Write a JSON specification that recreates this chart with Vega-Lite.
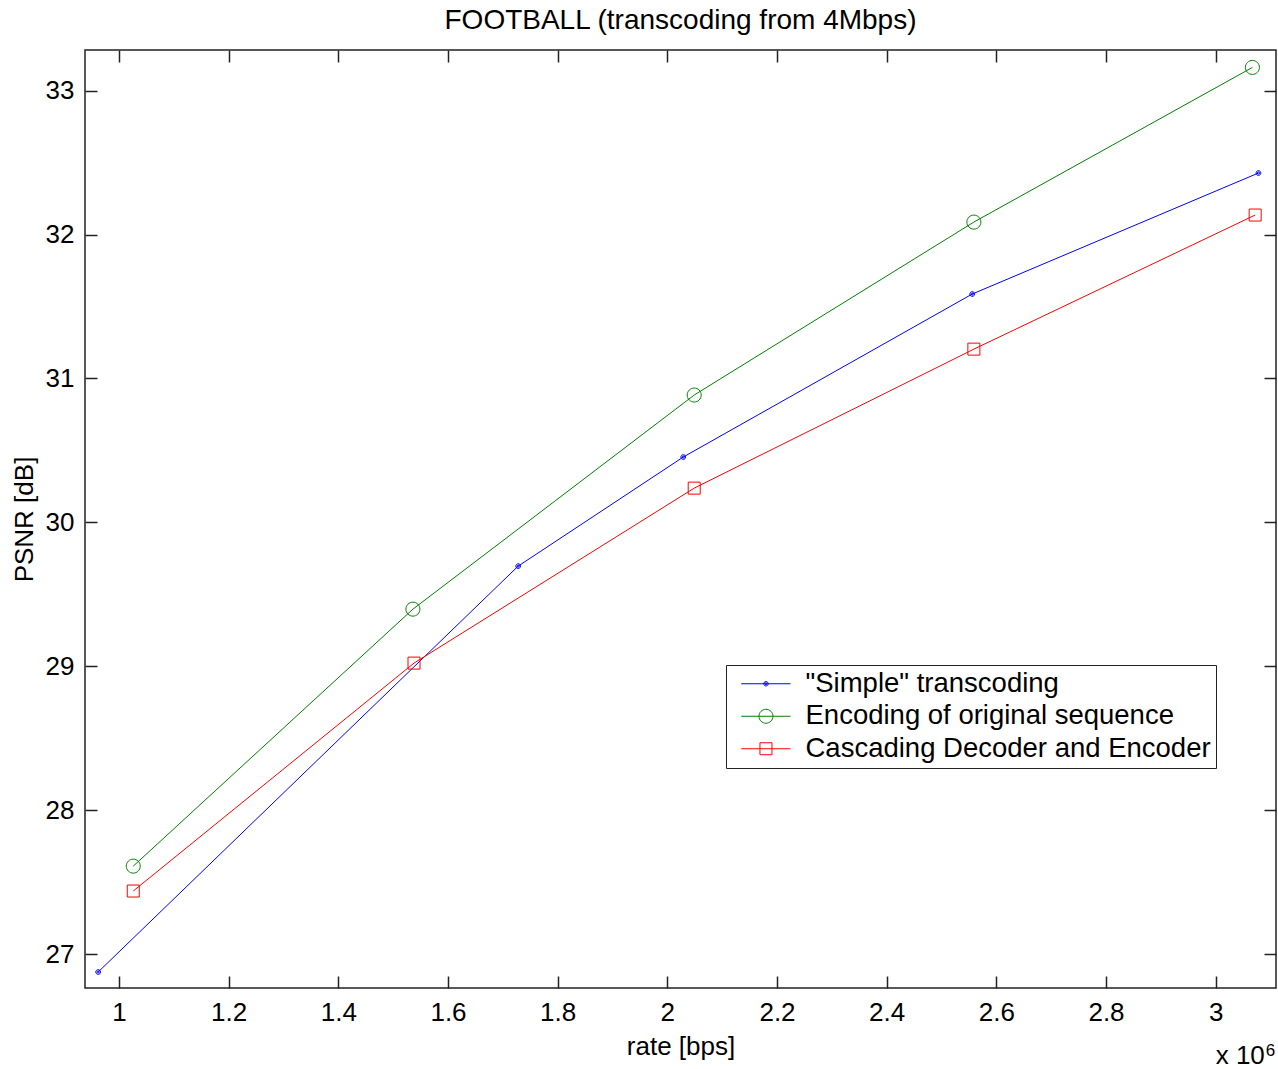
{
  "$schema": "https://vega.github.io/schema/vega-lite/v6.json",
  "width": 1191,
  "height": 938,
  "autosize": {"type": "none"},
  "padding": {"left": 85, "top": 50, "right": 2, "bottom": 81},
  "background": "white",
  "title": {
    "text": "FOOTBALL (transcoding from 4Mbps)",
    "font": "Liberation Sans",
    "fontSize": 28,
    "fontWeight": "normal",
    "color": "black",
    "anchor": "middle",
    "offset": 14
  },
  "config": {
    "view": {"stroke": "#222", "strokeWidth": 1.5},
    "axis": {
      "domain": false,
      "grid": false,
      "tickColor": "#222",
      "tickWidth": 1.5,
      "tickSize": -12,
      "labelFont": "Liberation Sans",
      "labelFontSize": 26,
      "labelColor": "black",
      "titleFont": "Liberation Sans",
      "titleFontSize": 26,
      "titleFontWeight": "normal",
      "titleColor": "black"
    },
    "legend": {
      "orient": "none",
      "legendX": 641,
      "legendY": 615,
      "strokeColor": "#222",
      "fillColor": "white",
      "padding": 5,
      "rowPadding": 3.5,
      "labelFont": "Liberation Sans",
      "labelFontSize": 27.5,
      "labelColor": "black",
      "labelLimit": 1000,
      "labelOffset": 47,
      "symbolSize": 196,
      "symbolStrokeWidth": 1,
      "symbolOpacity": 1,
      "title": null
    }
  },
  "datasets": {
    "series": [
      {"series": "\"Simple\" transcoding", "rate": 0.962, "psnr": 26.875},
      {"series": "\"Simple\" transcoding", "rate": 1.728, "psnr": 29.696},
      {"series": "\"Simple\" transcoding", "rate": 2.029, "psnr": 30.454},
      {"series": "\"Simple\" transcoding", "rate": 2.556, "psnr": 31.587},
      {"series": "\"Simple\" transcoding", "rate": 3.078, "psnr": 32.428},
      {"series": "Encoding of original sequence", "rate": 1.026, "psnr": 27.611},
      {"series": "Encoding of original sequence", "rate": 1.536, "psnr": 29.397},
      {"series": "Encoding of original sequence", "rate": 2.049, "psnr": 30.885},
      {"series": "Encoding of original sequence", "rate": 2.559, "psnr": 32.087},
      {"series": "Encoding of original sequence", "rate": 3.067, "psnr": 33.162},
      {"series": "Cascading Decoder and Encoder", "rate": 1.026, "psnr": 27.438},
      {"series": "Cascading Decoder and Encoder", "rate": 1.538, "psnr": 29.022},
      {"series": "Cascading Decoder and Encoder", "rate": 2.049, "psnr": 30.238},
      {"series": "Cascading Decoder and Encoder", "rate": 2.559, "psnr": 31.204},
      {"series": "Cascading Decoder and Encoder", "rate": 3.072, "psnr": 32.136}
    ]
  },
  "resolve": {"axis": {"x": "independent", "y": "independent"}},
  "layer": [
    {
      "data": {"name": "series"},
      "mark": {"type": "line", "strokeWidth": 1},
      "encoding": {
        "x": {
          "field": "rate", "type": "quantitative",
          "scale": {"domain": [0.938, 3.11], "nice": false, "zero": false},
          "axis": {"orient": "bottom", "values": [1, 1.2, 1.4, 1.6, 1.8, 2, 2.2, 2.4, 2.6, 2.8, 3], "format": "~g", "labelPadding": 23, "title": "rate [bps]", "titlePadding": 8}
        },
        "y": {
          "field": "psnr", "type": "quantitative",
          "scale": {"domain": [26.764, 33.283], "nice": false, "zero": false},
          "axis": {"orient": "left", "values": [27, 28, 29, 30, 31, 32, 33], "labelPadding": 23, "title": "PSNR [dB]", "titlePadding": 8}
        },
        "color": {
          "field": "series", "type": "nominal",
          "scale": {
            "domain": ["\"Simple\" transcoding", "Encoding of original sequence", "Cascading Decoder and Encoder"],
            "range": ["#0000ff", "#008000", "#ff0000"]
          },
          "legend": {"labelExpr": "datum.label + '\u00a0\u00a0'"}
        }
      }
    },
    {
      "data": {"name": "series"},
      "mark": {"type": "point", "filled": false, "strokeWidth": 1, "size": 196, "opacity": 0},
      "encoding": {
        "x": {
          "field": "rate", "type": "quantitative",
          "axis": {"orient": "top", "values": [1, 1.2, 1.4, 1.6, 1.8, 2, 2.2, 2.4, 2.6, 2.8, 3], "labels": false, "title": null}
        },
        "y": {
          "field": "psnr", "type": "quantitative",
          "axis": {"orient": "right", "values": [27, 28, 29, 30, 31, 32, 33], "labels": false, "title": null}
        },
        "color": {"field": "series", "type": "nominal", "legend": {"labelExpr": "datum.label + '\u00a0\u00a0'"}},
        "shape": {
          "field": "series", "type": "nominal",
          "scale": {
            "domain": ["\"Simple\" transcoding", "Encoding of original sequence", "Cascading Decoder and Encoder"],
            "range": [
              "M-0.5,0H6.54M2.71,0A0.32,0.32 0 1,0 3.35,0A0.32,0.32 0 1,0 2.71,0ZM2.88,0A0.15,0.15 0 1,0 3.18,0A0.15,0.15 0 1,0 2.88,0Z",
              "M-0.5,0H6.54M2.03,0A1,1 0 1,0 4.03,0A1,1 0 1,0 2.03,0Z",
              "M-0.5,0H6.54M2.173,-0.857H3.887V0.857H2.173Z"
            ]
          },
          "legend": {"labelExpr": "datum.label + '\u00a0\u00a0'"}
        }
      }
    },
    {
      "data": {"name": "series"},
      "transform": [{"filter": "datum.series === 'Encoding of original sequence'"}],
      "mark": {"type": "point", "filled": false, "strokeWidth": 1, "size": 196, "opacity": 1, "color": "#008000", "shape": "M-1,0A1,1 0 1,0 1,0A1,1 0 1,0 -1,0Z"},
      "encoding": {
        "x": {"field": "rate", "type": "quantitative", "axis": null},
        "y": {"field": "psnr", "type": "quantitative", "axis": null}
      }
    },
    {
      "data": {"name": "series"},
      "transform": [{"filter": "datum.series === 'Cascading Decoder and Encoder'"}],
      "mark": {"type": "point", "filled": false, "strokeWidth": 1, "size": 196, "opacity": 1, "color": "#ff0000", "shape": "M-0.857,-0.857H0.857V0.857H-0.857Z"},
      "encoding": {
        "x": {"field": "rate", "type": "quantitative", "axis": null},
        "y": {"field": "psnr", "type": "quantitative", "axis": null}
      }
    },
    {
      "data": {"name": "series"},
      "transform": [{"filter": "datum.series !== 'Encoding of original sequence' && datum.series !== 'Cascading Decoder and Encoder'"}],
      "mark": {"type": "point", "filled": false, "strokeWidth": 1, "size": 196, "opacity": 1, "color": "#0000ff", "shape": "M-0.34,0A0.34,0.34 0 1,0 0.34,0A0.34,0.34 0 1,0 -0.34,0ZM-0.16,0A0.16,0.16 0 1,0 0.16,0A0.16,0.16 0 1,0 -0.16,0Z"},
      "encoding": {
        "x": {"field": "rate", "type": "quantitative", "axis": null},
        "y": {"field": "psnr", "type": "quantitative", "axis": null}
      }
    },
    {
      "data": {"values": [{"note": "x 10"}]},
      "mark": {"type": "text", "font": "Liberation Sans", "fontSize": 26, "align": "left", "baseline": "alphabetic", "dy": 76, "color": "black"},
      "encoding": {
        "x": {"datum": 3.0, "type": "quantitative", "axis": null},
        "y": {"datum": 26.764, "type": "quantitative", "axis": null},
        "text": {"field": "note"}
      }
    },
    {
      "data": {"values": [{"note": "6"}]},
      "mark": {"type": "text", "font": "Liberation Sans", "fontSize": 17, "align": "left", "baseline": "alphabetic", "dx": 50, "dy": 68, "color": "black"},
      "encoding": {
        "x": {"datum": 3.0, "type": "quantitative", "axis": null},
        "y": {"datum": 26.764, "type": "quantitative", "axis": null},
        "text": {"field": "note"}
      }
    }
  ]
}
